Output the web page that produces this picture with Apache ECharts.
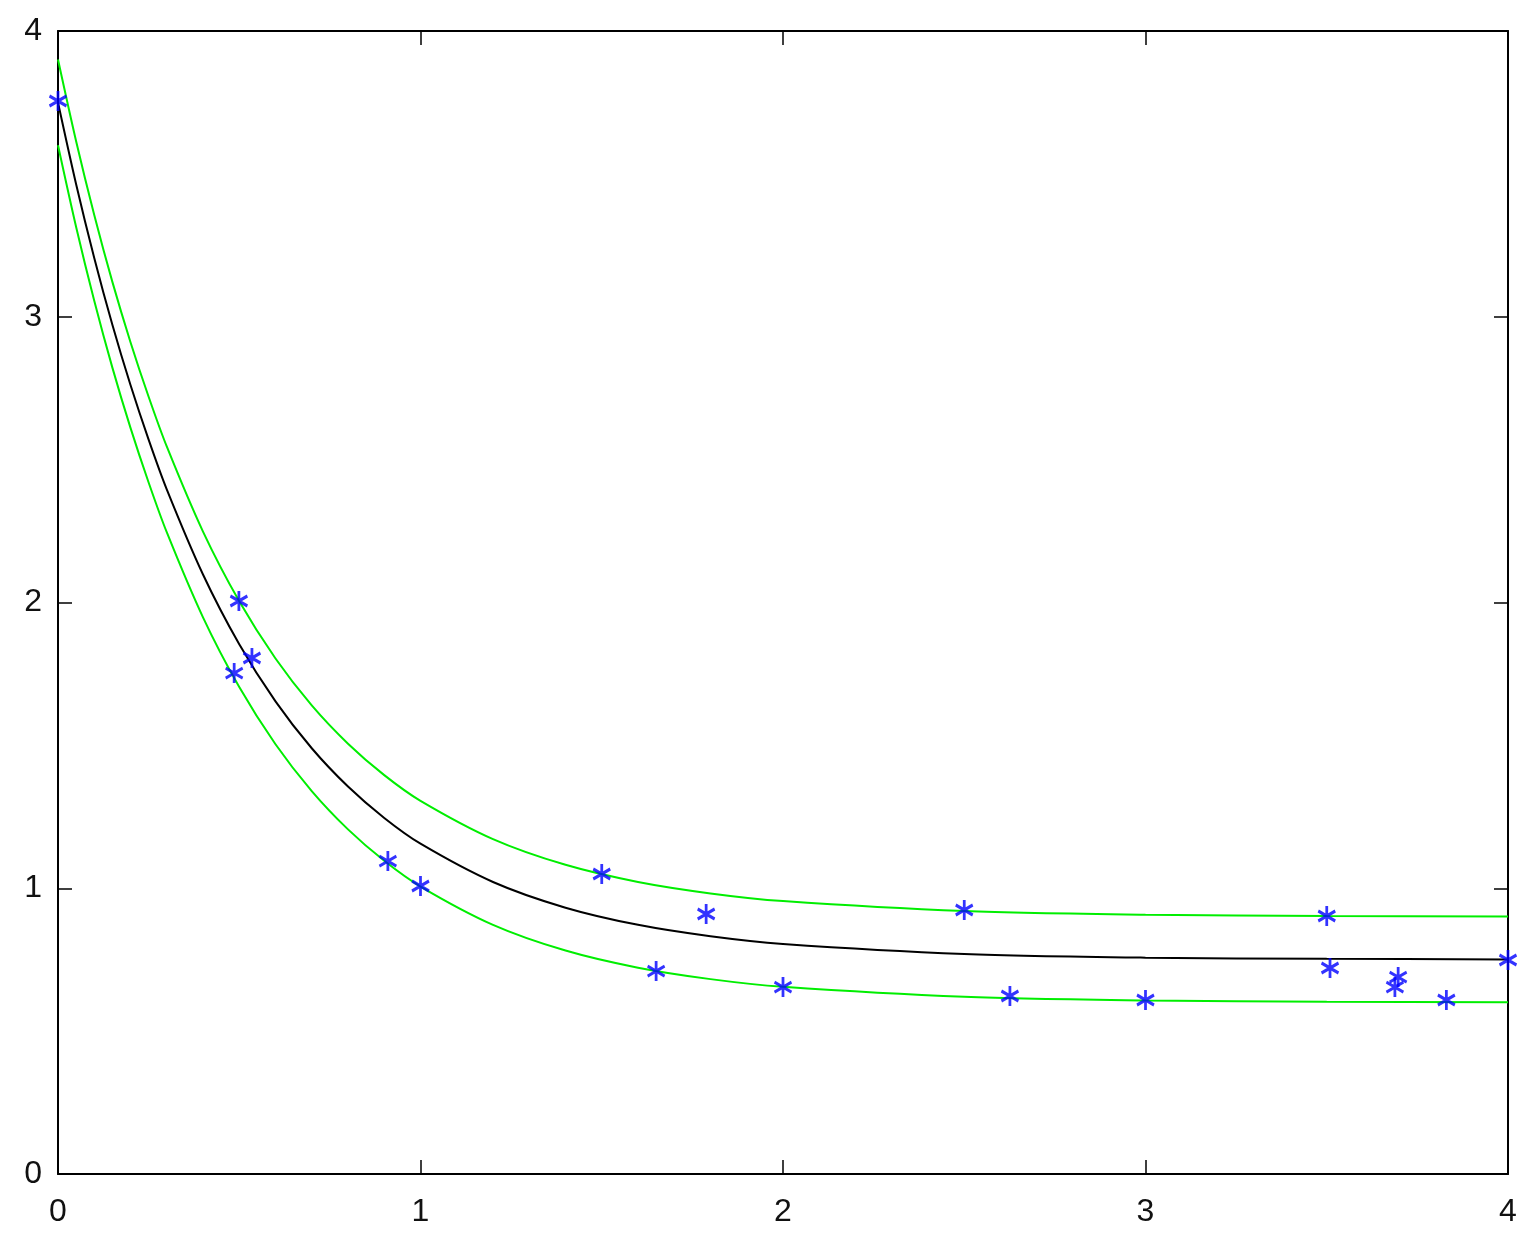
<!DOCTYPE html>
<html>
<head>
<meta charset="utf-8">
<script src="https://cdn.jsdelivr.net/npm/echarts@6/dist/echarts.min.js"></script>
<style>
  html, body { margin: 0; padding: 0; background: #fff; }
  #grafico { width: 1535px; height: 1253px; }
</style>
</head>
<body>
<div id="grafico"></div>
<script>
// curva ajustada e faixas
var curvaX = [0, 0.05, 0.1, 0.15, 0.2, 0.25, 0.3, 0.4, 0.5, 0.6, 0.7, 0.8, 0.9, 1.0, 1.2, 1.4, 1.6, 1.8, 2.0, 2.5, 3.0, 3.5, 4.0];
var curvaMeio = [3.75, 3.464, 3.206, 2.972, 2.761, 2.570, 2.396, 2.098, 1.854, 1.654, 1.490, 1.356, 1.246, 1.156, 1.022, 0.932, 0.872, 0.832, 0.805, 0.770, 0.757, 0.753, 0.751];
var curvaSup = [3.90, 3.614, 3.356, 3.122, 2.911, 2.720, 2.546, 2.248, 2.004, 1.804, 1.640, 1.506, 1.396, 1.306, 1.172, 1.082, 1.022, 0.982, 0.955, 0.920, 0.907, 0.903, 0.901];
var curvaInf = [3.60, 3.314, 3.056, 2.822, 2.611, 2.420, 2.246, 1.948, 1.704, 1.504, 1.340, 1.206, 1.096, 1.006, 0.872, 0.782, 0.722, 0.682, 0.655, 0.620, 0.607, 0.603, 0.601];

// pontos medidos
var pontosX = [0, 0.499, 0.535, 0.486, 0.91, 1.0, 1.5, 1.65, 1.788, 2.0, 2.5, 2.626, 3.0, 3.5, 3.509, 3.688, 3.697, 3.83, 4.0];
var pontosY = [3.755, 2.005, 1.806, 1.753, 1.095, 1.008, 1.05, 0.71, 0.91, 0.654, 0.924, 0.623, 0.609, 0.903, 0.721, 0.654, 0.689, 0.609, 0.749];

function pares(xs, ys) {
  var out = [];
  for (var i = 0; i < xs.length; i++) out.push([xs[i], ys[i]]);
  return out;
}

function eixo(pos, rotulo) {
  return {
    type: 'value', min: 0, max: 4, interval: 1, position: pos,
    axisLine: { show: true, onZero: false, lineStyle: { color: '#000', width: 2 } },
    axisTick: { show: true, inside: true, length: 14, lineStyle: { color: '#000', width: 1.5 } },
    splitLine: { show: false },
    axisLabel: rotulo ? { show: true, margin: rotulo, fontFamily: 'Liberation Sans', fontSize: 32, color: '#111' } : { show: false }
  };
}

var chartDom = document.getElementById('grafico');
var myChart = echarts.init(chartDom);
var option;

option = {
  animation: false,
  grid: { left: 58, right: 27, top: 31, bottom: 79, containLabel: false },
  xAxis: [eixo('bottom', 22), eixo('top', 0)],
  yAxis: [eixo('left', 16), eixo('right', 0)],
  series: [
    {
      type: 'line', data: pares(curvaX, curvaSup), smooth: 0.3, showSymbol: false,
      lineStyle: { color: '#00ee00', width: 2 }, z: 2
    },
    {
      type: 'line', data: pares(curvaX, curvaInf), smooth: 0.3, showSymbol: false,
      lineStyle: { color: '#00ee00', width: 2 }, z: 2
    },
    {
      type: 'line', data: pares(curvaX, curvaMeio), smooth: 0.3, showSymbol: false,
      lineStyle: { color: '#000', width: 2 }, z: 3
    },
    {
      type: 'scatter', data: pares(pontosX, pontosY),
      symbol: 'path://M0,-10L0,10M-8.66,-5L8.66,5M-8.66,5L8.66,-5',
      symbolSize: [17, 20],
      itemStyle: { color: 'none', borderColor: '#0000ff', borderWidth: 3 },
      z: 5
    }
  ]
};

option && myChart.setOption(option);
</script>
</body>
</html>
